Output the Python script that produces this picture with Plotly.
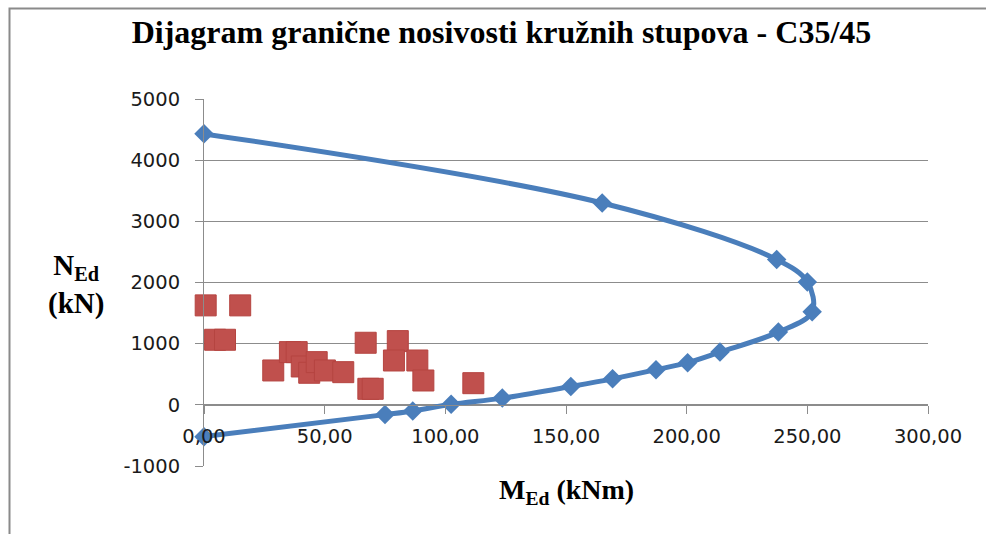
import plotly.graph_objects as go

# Capacity (interaction) curve of the circular column section, C35/45
capacity_moment = [0.0, 165.0, 237.3, 250.0, 252.0, 238.0, 213.8, 200.4, 187.3,
                   169.3, 152.0, 123.6, 102.4, 86.5, 75.0, 0.0]
capacity_axial = [4430, 3300, 2375, 2010, 1520, 1190, 862, 690, 575,
                  425, 300, 110, 8, -100, -160, -520]

# Design actions (M_Ed, N_Ed) acting on the columns
load_moment = [0.7, 15.0, 4.6, 8.7, 28.7, 35.6, 38.4, 40.5, 43.6, 46.7,
               50.1, 57.7, 67.0, 80.3, 78.7, 88.4, 90.9, 68.1, 69.9, 111.6]
load_axial = [1626, 1626, 1064, 1064, 562, 862, 862, 627, 524, 698,
              562, 534, 1015, 1042, 725, 725, 398, 262, 262, 354]

x_tick_values = [0, 50, 100, 150, 200, 250, 300]
x_tick_labels = ["0,00", "50,00", "100,00", "150,00", "200,00", "250,00", "300,00"]
y_tick_values = [-1000, 0, 1000, 2000, 3000, 4000, 5000]
y_tick_labels = ["-1000", "0", "1000", "2000", "3000", "4000", "5000"]

BLUE = "#4A7EBB"
RED = "#C0504D"
GRID = "#8C8C8C"
TICK_FONT = dict(family="DejaVu Sans", size=19.5, color="#1a1a1a")
SERIF = "Liberation Serif"

# plot-area pixel box used to place the free-floating labels and the frame
L, R, T, B = 204, 928, 99, 466


def px(x):
    return (x - L) / (R - L)


def py(y):
    return (B - y) / (B - T)


fig = go.Figure()

fig.add_trace(go.Scatter(
    x=capacity_moment, y=capacity_axial,
    mode="lines+markers",
    line=dict(color=BLUE, width=5, shape="spline", smoothing=1.0),
    marker=dict(symbol="diamond", size=15, color=BLUE),
    cliponaxis=False,
    showlegend=False,
))

fig.add_trace(go.Scatter(
    x=load_moment, y=load_axial,
    mode="markers",
    marker=dict(symbol="square", size=21, color=RED,
                line=dict(color="#B54440", width=1)),
    cliponaxis=False,
    showlegend=False,
))

fig.update_layout(
    width=986, height=534,
    margin=dict(l=L, r=986 - R, t=T, b=534 - B, autoexpand=False),
    paper_bgcolor="white",
    plot_bgcolor="white",
    title=dict(
        text="<b>Dijagram granične nosivosti kružnih stupova - C35/45</b>",
        font=dict(family=SERIF, size=32, color="black"),
        x=0.5086, xanchor="center", xref="container",
        y=1 - 32 / 534, yanchor="middle", yref="container",
    ),
    xaxis=dict(
        range=[0, 300],
        tickvals=x_tick_values, ticktext=x_tick_labels,
        anchor="free", position=1 / 6,
        showline=True, linecolor=GRID, linewidth=1,
        ticks="outside", ticklen=8, tickcolor=GRID, tickwidth=1,
        showgrid=False, zeroline=False,
        tickfont=TICK_FONT,
        ticklabelstandoff=6,
    ),
    yaxis=dict(
        range=[-1000, 5000],
        tickvals=y_tick_values, ticktext=y_tick_labels,
        showline=True, linecolor=GRID, linewidth=1,
        ticks="outside", ticklen=8, tickcolor=GRID, tickwidth=1,
        showgrid=True, gridcolor=GRID, gridwidth=1,
        zeroline=False,
        tickfont=TICK_FONT,
        ticklabelstandoff=11,
    ),
    annotations=[
        dict(text="<b>N<sub>Ed</sub><br>(kN)</b>",
             x=px(76), y=py(284),
             xref="paper", yref="paper",
             xanchor="center", yanchor="middle", align="center",
             showarrow=False,
             font=dict(family=SERIF, size=29, color="black")),
        dict(text="<b>M<sub>Ed</sub> (kNm)</b>",
             x=px(566), y=py(491),
             xref="paper", yref="paper",
             xanchor="center", yanchor="middle",
             showarrow=False,
             font=dict(family=SERIF, size=28, color="black")),
    ],
    shapes=[
        # chart-area frame (top and left edges)
        dict(type="path", xref="paper", yref="paper",
             path="M %f,%f L %f,%f L %f,%f" % (
                 px(9.5), py(534), px(9.5), py(8.5), px(986), py(8.5)),
             line=dict(color="#8a8a8a", width=2)),
    ],
)

fig.write_html("out.html", config={"displayModeBar": False})
